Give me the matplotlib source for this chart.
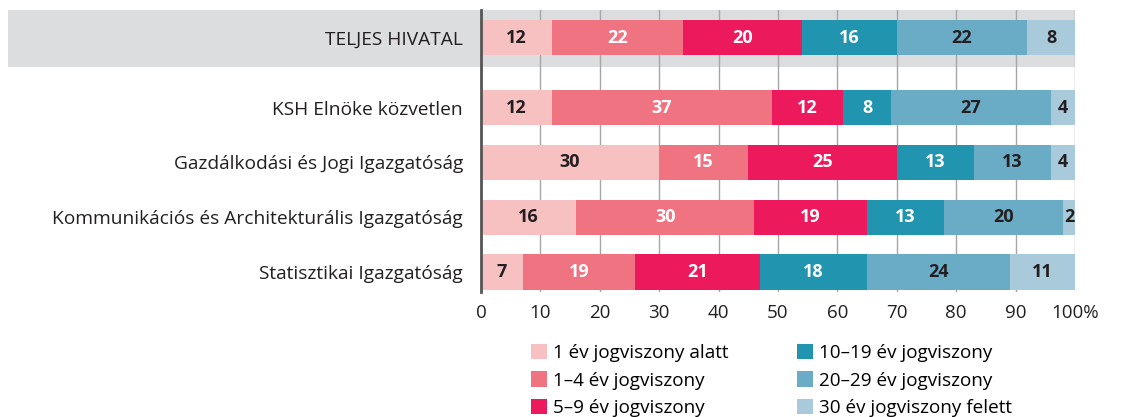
import matplotlib
matplotlib.use("Agg")
from matplotlib import pyplot as plt
from matplotlib.patches import Rectangle
import matplotlib.transforms as mtransforms
import numpy as np

plt.rcParams['font.family'] = ['Open Sans', 'DejaVu Sans']

categories = ["TELJES HIVATAL",
              "KSH Elnöke közvetlen",
              "Gazdálkodási és Jogi Igazgatóság",
              "Kommunikációs és Architekturális Igazgatóság",
              "Statisztikai Igazgatóság"]
series_names = ["1 év jogviszony alatt", "1–4 év jogviszony", "5–9 év jogviszony",
                "10–19 év jogviszony", "20–29 év jogviszony", "30 év jogviszony felett"]
under_1 = [12, 12, 30, 16, 7]
y1_4 = [22, 37, 15, 30, 19]
y5_9 = [20, 12, 25, 19, 21]
y10_19 = [16, 8, 13, 13, 18]
y20_29 = [22, 27, 13, 20, 24]
over_30 = [8, 4, 4, 2, 11]
xticks = [0, 10, 20, 30, 40, 50, 60, 70, 80, 90, 100]
xticklabels = ["0", "10", "20", "30", "40", "50", "60", "70", "80", "90", "100%"]

colors = ["#f7c1c1", "#f07382", "#ec1a5c", "#2194b0", "#6aabc6", "#a9cadb"]
text_colors = ["#231f20", "white", "white", "white", "#231f20", "#231f20"]

series = [under_1, y1_4, y5_9, y10_19, y20_29, over_30]
ypos = np.array([0, 1.27, 2.27, 3.27, 4.27])

fig = plt.figure(figsize=(11.21, 4.17), dpi=100)
ax = fig.add_axes([481/1121, 1-292/417, (1075-481)/1121, (292-10)/417])
ax.set_facecolor("none")

# grey band behind the total row
trans = mtransforms.blended_transform_factory(fig.transFigure, ax.transData)
band = Rectangle((8/1121, -0.509), (1075-8)/1121, 1.036, transform=trans,
                 facecolor="#dcdddf", edgecolor="none", clip_on=False, zorder=0.1)
ax.add_patch(band)

left = np.zeros(len(categories))
for vals, name, c, tc in zip(series, series_names, colors, text_colors):
    vals = np.array(vals)
    ax.barh(ypos, vals, left=left, height=0.64, color=c, label=name, zorder=2)
    for y, l, v in zip(ypos, left, vals):
        ax.text(l + v/2, y, str(v), ha="center", va="center", color=tc,
                fontsize=13, fontweight="bold", zorder=3)
    left += vals

ax.set_xlim(0, 100)
ax.set_ylim(4.634, -0.509)
ax.set_xticks(xticks)
ax.set_xticklabels(xticklabels, fontsize=13.5, color="#231f20")
ax.set_yticks(ypos)
ax.set_yticklabels(categories, fontsize=13.8, color="#231f20")
ax.tick_params(length=0, pad=9)
ax.tick_params(axis="y", pad=13)
ax.set_axisbelow(True)
ax.grid(axis="x", color="#a6a6a6", linewidth=1)
for s in ["top", "right", "bottom"]:
    ax.spines[s].set_visible(False)
ax.spines["left"].set_color("#555555")
ax.spines["left"].set_linewidth(2)
ax.spines["left"].set_zorder(4)

ax.legend(loc="upper left", bbox_to_anchor=(523/1121, 1-336/417),
          bbox_transform=fig.transFigure, ncol=2, frameon=False,
          fontsize=13.6, handlelength=0.85, handleheight=0.85, handletextpad=0.35,
          columnspacing=3.6, labelspacing=0.52, borderaxespad=0)

plt.savefig("out.png", dpi=100)
